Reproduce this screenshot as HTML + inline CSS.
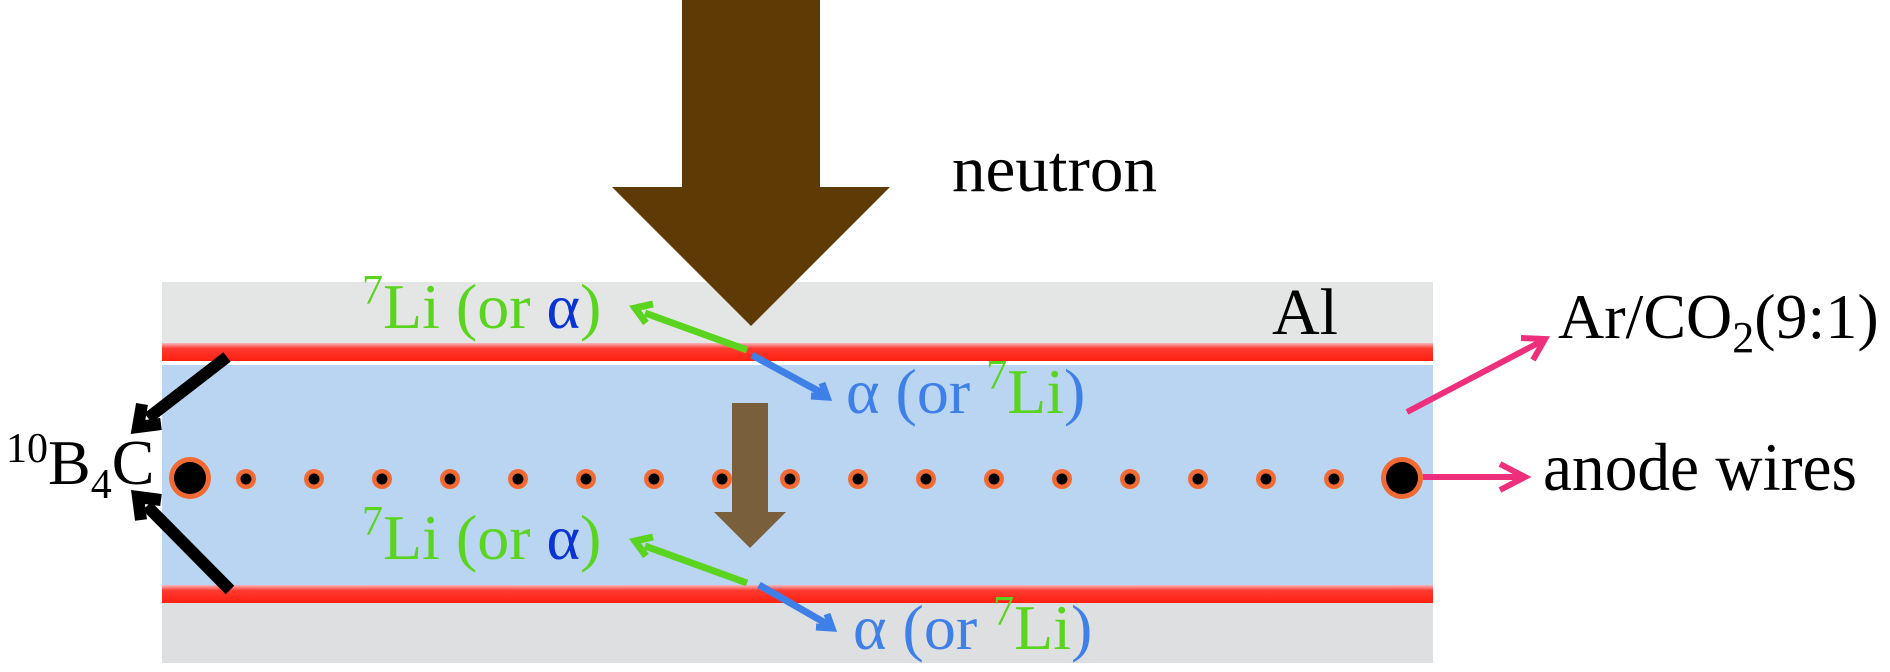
<!DOCTYPE html>
<html><head><meta charset="utf-8"><style>
html,body{margin:0;padding:0;background:#fff;width:1890px;height:672px;overflow:hidden}
svg{display:block}
text{font-family:"Liberation Serif",serif}
</style></head><body>
<svg width="1890" height="672" viewBox="0 0 1890 672" xmlns="http://www.w3.org/2000/svg">
<defs>
<linearGradient id="rt" x1="0" y1="0" x2="0" y2="1">
<stop offset="0" stop-color="#f6b8c0"/><stop offset="0.3" stop-color="#ff3a30"/><stop offset="1" stop-color="#ff2010"/>
</linearGradient>
</defs>
<rect x="162" y="282" width="1271" height="62" fill="#e4e6e5"/>
<rect x="162" y="343" width="1271" height="18" fill="url(#rt)"/>
<rect x="162" y="365" width="1271" height="220" fill="#b9d5f2"/>
<rect x="162" y="585" width="1271" height="18" fill="url(#rt)"/>
<rect x="162" y="603" width="1271" height="60" fill="#dedfe0"/>

<polygon points="682,0 820,0 820,187 890,187 751,326 612,187 682,187" fill="#5e3a04"/>
<polygon points="732,403 768,403 768,512 786,512 750,548 714,512 732,512" fill="#7a5f3c"/>

<g>
<circle cx="190" cy="478" r="21" fill="#f26a33"/><circle cx="190" cy="478" r="16" fill="#000"/>
<circle cx="1402" cy="478" r="21" fill="#f26a33"/><circle cx="1402" cy="478" r="16" fill="#000"/>
<g fill="#f26a33">
<circle cx="246" cy="479" r="10"/><circle cx="314" cy="479" r="10"/><circle cx="382" cy="479" r="10"/><circle cx="450" cy="479" r="10"/><circle cx="518" cy="479" r="10"/><circle cx="586" cy="479" r="10"/><circle cx="654" cy="479" r="10"/><circle cx="722" cy="479" r="10"/><circle cx="790" cy="479" r="10"/><circle cx="858" cy="479" r="10"/><circle cx="926" cy="479" r="10"/><circle cx="994" cy="479" r="10"/><circle cx="1062" cy="479" r="10"/><circle cx="1130" cy="479" r="10"/><circle cx="1198" cy="479" r="10"/><circle cx="1266" cy="479" r="10"/><circle cx="1334" cy="479" r="10"/>
</g>
<g fill="#000">
<circle cx="246" cy="479" r="5.5"/><circle cx="314" cy="479" r="5.5"/><circle cx="382" cy="479" r="5.5"/><circle cx="450" cy="479" r="5.5"/><circle cx="518" cy="479" r="5.5"/><circle cx="586" cy="479" r="5.5"/><circle cx="654" cy="479" r="5.5"/><circle cx="722" cy="479" r="5.5"/><circle cx="790" cy="479" r="5.5"/><circle cx="858" cy="479" r="5.5"/><circle cx="926" cy="479" r="5.5"/><circle cx="994" cy="479" r="5.5"/><circle cx="1062" cy="479" r="5.5"/><circle cx="1130" cy="479" r="5.5"/><circle cx="1198" cy="479" r="5.5"/><circle cx="1266" cy="479" r="5.5"/><circle cx="1334" cy="479" r="5.5"/>
</g>
</g>

<g stroke-width="7" fill="none" stroke-linejoin="miter">
<line x1="747" y1="350" x2="645" y2="313" stroke="#5ad41e"/>
<polyline points="653,304 635,308 646,323" stroke="#5ad41e"/>
<line x1="752" y1="355" x2="822" y2="393" stroke="#3f7fe8"/>
<polyline points="811,396 827,397 822,383" stroke="#3f7fe8"/>
<line x1="747" y1="583" x2="645" y2="546" stroke="#5ad41e"/>
<polyline points="653,537 635,541 646,556" stroke="#5ad41e"/>
<line x1="759" y1="585" x2="827" y2="624" stroke="#3f7fe8"/>
<polyline points="816,627 832,628 827,614" stroke="#3f7fe8"/>
</g>
<g stroke="#000" stroke-width="12" fill="none">
<line x1="227" y1="357" x2="148" y2="418"/>
<polyline points="142,404 138,427 161,424"/>
<line x1="230" y1="590" x2="147" y2="506"/>
<polyline points="141,520 138,497 161,500"/>
</g>
<g stroke="#ee2f7c" stroke-width="6" fill="none">
<line x1="1407" y1="412" x2="1542" y2="341"/>
<polyline points="1521,338 1545,339 1533,360"/>
<line x1="1423" y1="477" x2="1523" y2="477"/>
<polyline points="1500,464 1525,477 1500,490"/>
</g>

<text x="952" y="191" font-size="66" fill="#000" textLength="205" lengthAdjust="spacingAndGlyphs">neutron</text>
<text x="1272" y="334" font-size="66" fill="#000" textLength="66" lengthAdjust="spacingAndGlyphs">Al</text>
<text x="1558" y="338" font-size="64" fill="#000">Ar/CO<tspan font-size="44" dy="14">2</tspan><tspan dy="-14">(9:1)</tspan></text>
<text x="1543" y="490" font-size="68" fill="#000" textLength="314" lengthAdjust="spacingAndGlyphs">anode wires</text>
<text x="6" y="484" font-size="64" fill="#000"><tspan font-size="42" dy="-22">10</tspan><tspan dy="22">B</tspan><tspan font-size="42" dy="14">4</tspan><tspan dy="-14">C</tspan></text>

<text x="362" y="328" font-size="64" fill="#5ad41e"><tspan font-size="42" dy="-24">7</tspan><tspan dy="24">Li (or </tspan><tspan fill="#0a33d4">α</tspan>)</text>
<text x="362" y="559" font-size="64" fill="#5ad41e"><tspan font-size="42" dy="-24">7</tspan><tspan dy="24">Li (or </tspan><tspan fill="#0a33d4">α</tspan>)</text>
<text x="846" y="413" font-size="64" fill="#3f7fe8">α (or <tspan fill="#5ad41e" font-size="42" dy="-24">7</tspan><tspan fill="#5ad41e" dy="24">Li</tspan>)</text>
<text x="853" y="649" font-size="64" fill="#3f7fe8">α (or <tspan fill="#5ad41e" font-size="42" dy="-24">7</tspan><tspan fill="#5ad41e" dy="24">Li</tspan>)</text>
</svg>
</body></html>
